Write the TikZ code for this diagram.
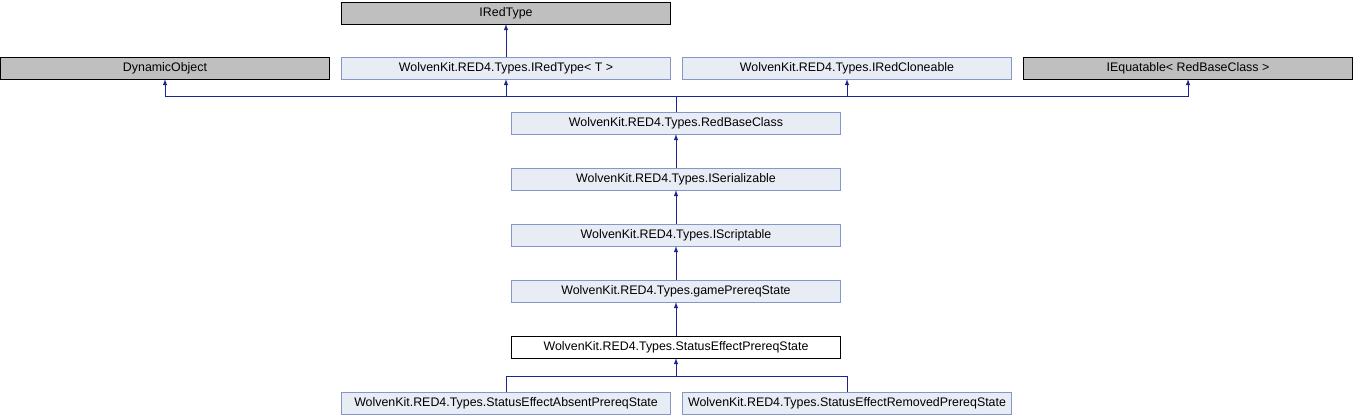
\documentclass[tikz,border=0pt]{standalone}
\usepackage{fontspec}
\setmainfont{Liberation Sans}
\usetikzlibrary{arrows,positioning}
\definecolor{docfill}{HTML}{E8ECF4}
\definecolor{docline}{HTML}{8497C8}
\definecolor{extfill}{HTML}{BFBFBF}
\definecolor{linkblue}{HTML}{1A2590}

\begin{document}
\begin{tikzpicture}[x=1pt, y=-1pt,
  cls/.style = {draw=docline, fill=docfill, minimum width=329pt, minimum height=22pt,
                inner sep=0pt, font=\fontsize{12.4}{14}\selectfont},
  ext/.style = {cls, draw=black, fill=extfill},
  cur/.style = {cls, draw=black, fill=white},
  link/.style = {draw=linkblue, line width=1pt, arrows=-latex}]
 \useasboundingbox (0,0) rectangle (1354,416);

 % top rows
 \node[ext] (iredtype) at (506,13) {IRedType};
 \node[ext] (dynobj) at (165,68) {DynamicObject};
 \node[cls] (iredtypet) at (506,68) {WolvenKit.RED4.Types.IRedType< T >};
 \node[cls] (cloneable) at (847,68) {WolvenKit.RED4.Types.IRedCloneable};
 \node[ext] (equatable) at (1188,68) {IEquatable< RedBaseClass >};

 % the chain
 \node[cls] (redbase) at (676,123) {WolvenKit.RED4.Types.RedBaseClass};
 \node[cls] (serial) at (676,179) {WolvenKit.RED4.Types.ISerializable};
 \node[cls] (script) at (676,235) {WolvenKit.RED4.Types.IScriptable};
 \node[cls] (prereq) at (676,291) {WolvenKit.RED4.Types.gamePrereqState};
 \node[cur] (sepstate) at (676,347) {WolvenKit.RED4.Types.StatusEffectPrereqState};

 \node[cls] (absent) at (506,403) {WolvenKit.RED4.Types.StatusEffectAbsentPrereqState};
 \node[cls] (removed) at (847,403) {WolvenKit.RED4.Types.StatusEffectRemovedPrereqState};

 \draw[link] (iredtypet.north) -- (iredtype.south);

 \coordinate (fork) at ([yshift=15pt]redbase.north);
 \draw[link] (redbase.north) -- (fork) -| (dynobj.south);
 \draw[link] (fork) -| (iredtypet.south);
 \draw[link] (fork) -| (cloneable.south);
 \draw[link] (fork) -| (equatable.south);

 \draw[link] (serial.north) -- (redbase.south);
 \draw[link] (script.north) -- (serial.south);
 \draw[link] (prereq.north) -- (script.south);
 \draw[link] (sepstate.north) -- (prereq.south);

 \coordinate (lowfork) at ([yshift=15pt]absent.north);
 \draw[link] (absent.north) -- (lowfork) -| (sepstate.south);
 \draw[draw=linkblue, line width=1pt] (removed.north) |- (lowfork);
\end{tikzpicture}
\end{document}
